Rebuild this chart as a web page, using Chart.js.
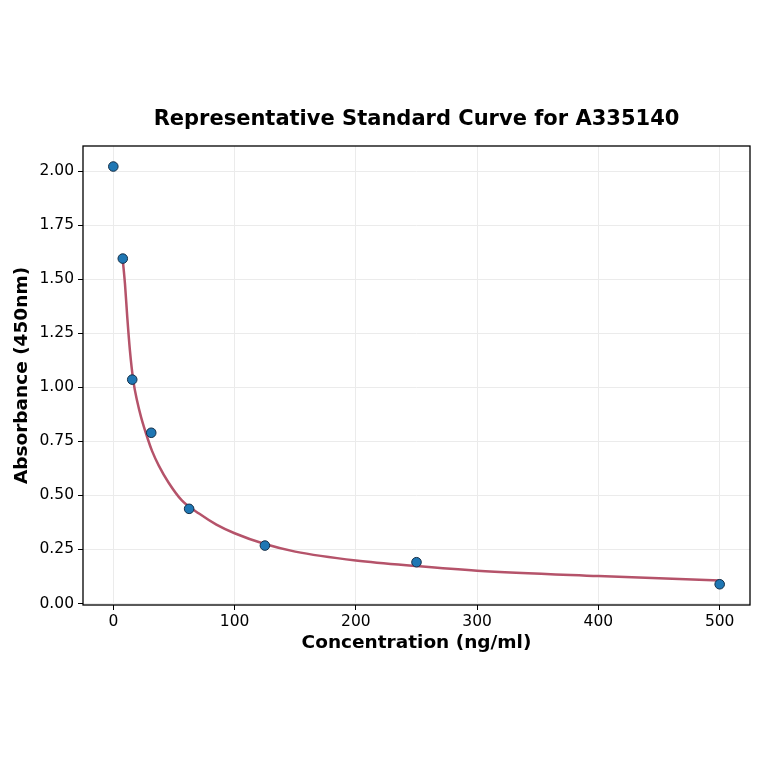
<!DOCTYPE html>
<html>
<head>
<meta charset="utf-8">
<script src="https://cdn.jsdelivr.net/npm/chart.js@4/dist/chart.umd.min.js"></script>
<style>
  html, body { margin: 0; padding: 0; background: #fff; }
  #wrap { width: 764px; height: 764px; }
</style>
</head>
<body>
<div id="wrap"><canvas id="myChart"></canvas></div>
<script>
// Puntos medidos (concentracion / absorbancia)
var concentraciones = [0, 7.8, 15.6, 31.25, 62.5, 125, 250, 500];
var absorbancias = [2.022, 1.596, 1.036, 0.790, 0.438, 0.268, 0.191, 0.089];

// Curva ajustada
var curvaX = [7.8, 9.6, 11.5, 13.7, 16.5, 19.5, 23, 28.5, 32, 37.5, 45.5, 56.5, 71, 85, 100, 125, 150, 200, 250, 300, 400, 500];
var curvaY = [1.59, 1.48, 1.325, 1.17, 1.03, 0.94, 0.86, 0.76, 0.705, 0.638, 0.56, 0.477, 0.415, 0.365, 0.325, 0.275, 0.240, 0.199, 0.173, 0.152, 0.127, 0.106];

// Etiquetas de los ejes
var ticksX = [0, 100, 200, 300, 400, 500];
var ticksY = [0, 0.25, 0.5, 0.75, 1.0, 1.25, 1.5, 1.75, 2.0];

var titulo = 'Representative Standard Curve for A335140';
var fuente = "'DejaVu Sans', sans-serif";

var puntos = concentraciones.map(function(c, i) { return { x: c, y: absorbancias[i] }; });
var curva = curvaX.map(function(c, i) { return { x: c, y: curvaY[i] }; });

// Marco completo alrededor del area y titulo centrado sobre ella
var marco = {
    id: 'marco',
    afterDatasetsDraw: function(chart) {
        var a = chart.chartArea, ctx = chart.ctx;
        ctx.save();
        ctx.strokeStyle = '#000';
        ctx.lineWidth = 1.3;
        ctx.strokeRect(a.left, a.top, a.right - a.left, a.bottom - a.top);
        ctx.fillStyle = '#000';
        ctx.font = 'bold 21px ' + fuente;
        ctx.textAlign = 'center';
        ctx.textBaseline = 'middle';
        ctx.fillText(titulo, (a.left + a.right) / 2, a.top - 26);
        ctx.restore();
    }
};

var ctx = document.getElementById('myChart').getContext('2d');
var myChart = new Chart(ctx, {
    type: 'scatter',
    data: {
        datasets: [{
            type: 'line',
            label: 'Curva',
            data: curva,
            borderColor: '#b5536a',
            borderWidth: 2.5,
            pointRadius: 0,
            cubicInterpolationMode: 'monotone',
            fill: false,
            order: 2
        }, {
            label: 'Puntos',
            data: puntos,
            backgroundColor: '#1f77b4',
            borderColor: '#152f48',
            borderWidth: 1,
            pointRadius: 4.8,
            order: 1
        }]
    },
    options: {
        responsive: true,
        maintainAspectRatio: false,
        animation: false,
        layout: { padding: { left: 0, right: 14, top: 146, bottom: 99 } },
        plugins: {
            legend: { display: false },
            tooltip: { enabled: false },
            title: { display: false }
        },
        scales: {
            x: {
                type: 'linear',
                min: -25,
                max: 525,
                afterBuildTicks: function(scale) {
                    scale.ticks = ticksX.map(function(v) { return { value: v }; });
                },
                afterFit: function(scale) { scale.height = 60; },
                ticks: {
                    color: '#000',
                    font: { family: fuente, size: 15.5 },
                    padding: 3,
                    maxRotation: 0
                },
                grid: { color: '#ebebeb', tickColor: '#000', tickLength: 5, lineWidth: 1 },
                border: { display: false },
                title: {
                    display: true,
                    text: 'Concentration (ng/ml)',
                    color: '#000',
                    font: { family: fuente, size: 18.5, weight: 'bold' },
                    padding: { top: 4, bottom: 11 }
                }
            },
            y: {
                type: 'linear',
                min: -0.007,
                max: 2.117,
                afterBuildTicks: function(scale) {
                    scale.ticks = ticksY.map(function(v) { return { value: v }; });
                },
                afterFit: function(scale) { scale.width = 83; },
                ticks: {
                    color: '#000',
                    font: { family: fuente, size: 15.5 },
                    padding: 4,
                    callback: function(v) { return Number(v).toFixed(2); }
                },
                grid: { color: '#ebebeb', tickColor: '#000', tickLength: 5, lineWidth: 1 },
                border: { display: false },
                title: {
                    display: true,
                    text: 'Absorbance (450nm)',
                    color: '#000',
                    font: { family: fuente, size: 18.5, weight: 'bold' },
                    padding: { top: 11, bottom: 0 }
                }
            }
        }
    },
    plugins: [marco]
});
</script>
</body>
</html>
